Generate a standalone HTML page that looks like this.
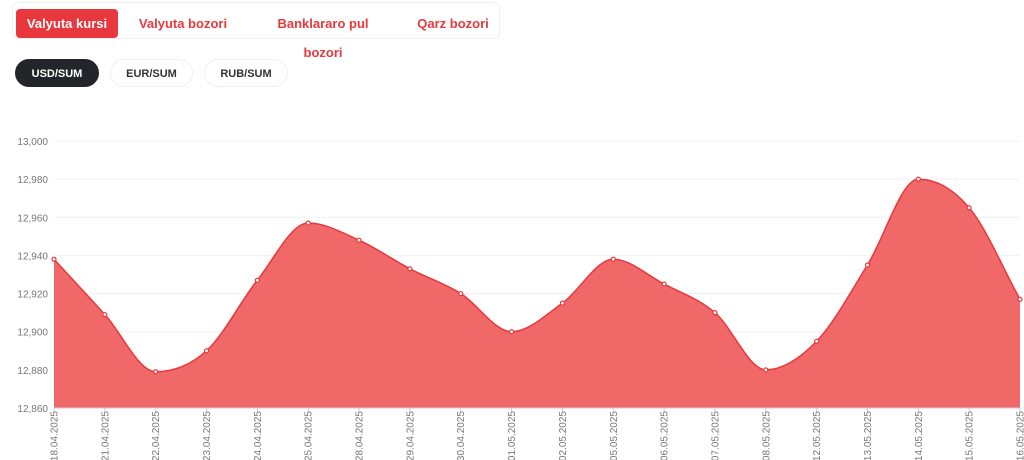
<!DOCTYPE html>
<html><head><meta charset="utf-8"><style>
body{margin:0;width:1024px;height:460px;background:#fff;font-family:"Liberation Sans",sans-serif;position:relative;overflow:hidden}
.tabs{position:absolute;left:12px;top:2px;width:488px;height:37px;border:1px solid #eef0f4;border-radius:6px;box-sizing:border-box}
.tab{position:absolute;top:6px;height:29px;line-height:29px;font-size:13px;font-weight:bold;color:#e8383d;text-align:center}
.tab.active{background:#e8383d;color:#fff;border-radius:4px}
.pill{position:absolute;top:59px;height:28px;line-height:28px;border-radius:14px;font-size:11px;font-weight:bold;text-align:center;border:1px solid #eef0f4;box-sizing:border-box;color:#333}
.pill.active{background:#24252b;color:#fff;border-color:#24252b}
svg{position:absolute;left:0;top:0}
</style></head><body>
<div class="tabs">
<div class="tab active" style="left:3px;width:102px">Valyuta kursi</div>
<div class="tab" style="left:120px;width:100px">Valyuta bozori</div>
<div class="tab" style="left:245px;width:130px">Banklararo pul bozori</div>
<div class="tab" style="left:400px;width:80px">Qarz bozori</div>
</div>
<div class="pill active" style="left:15px;width:84px">USD/SUM</div>
<div class="pill" style="left:110px;width:83px">EUR/SUM</div>
<div class="pill" style="left:204px;width:84px">RUB/SUM</div>
<svg id="chart" width="1024" height="460"></svg>
<script>
const dates=["18.04.2025","21.04.2025","22.04.2025","23.04.2025","24.04.2025","25.04.2025","28.04.2025","29.04.2025","30.04.2025","01.05.2025","02.05.2025","05.05.2025","06.05.2025","07.05.2025","08.05.2025","12.05.2025","13.05.2025","14.05.2025","15.05.2025","16.05.2025"];
const rates=[12938,12909,12879,12890,12927,12957,12948,12933,12920,12900,12915,12938,12925,12910,12880,12895,12935,12980,12965,12917];
const yTicks=[12860,12880,12900,12920,12940,12960,12980,13000];
const svg=document.getElementById('chart'),NS="http://www.w3.org/2000/svg";
const X0=54,X1=1020,Y0=408,Y1=141,ymin=12860,ymax=13000;
const xs=i=>X0+(X1-X0)*i/(dates.length-1);
const ys=v=>Y0-(v-ymin)/(ymax-ymin)*(Y0-Y1);
function mk(t,a){const e=document.createElementNS(NS,t);for(const k in a)e.setAttribute(k,a[k]);svg.appendChild(e);return e;}
yTicks.forEach(v=>{
const g=mk('line',{x1:X0,x2:X1,y1:ys(v),y2:ys(v),stroke:'#eef0f6','stroke-width':1});


const t=mk('text',{x:X0-6,y:ys(v)+4,'text-anchor':'end','font-size':10,fill:'#777','font-family':'Liberation Sans, sans-serif'});
t.textContent=v.toLocaleString('en-US');


});
const P=rates.map((v,i)=>[xs(i),ys(v)]);
const n=P.length,d=[],m=[];
for(let i=0;i<n-1;i++)d.push((P[i+1][1]-P[i][1])/(P[i+1][0]-P[i][0]));
for(let i=0;i<n;i++){if(i==0)m.push(d[0]);else if(i==n-1)m.push(d[n-2]);else m.push(d[i-1]*d[i]<=0?0:(d[i-1]+d[i])/2);}
for(let i=0;i<n-1;i++){if(d[i]==0){m[i]=m[i+1]=0;continue;}const a=m[i]/d[i],b=m[i+1]/d[i],s=a*a+b*b;if(s>9){const t=3/Math.sqrt(s);m[i]=t*a*d[i];m[i+1]=t*b*d[i];}}
let path=`M${P[0][0]},${P[0][1]}`;
for(let i=0;i<n-1;i++){const h=(P[i+1][0]-P[i][0])/3;path+=` C${P[i][0]+h},${P[i][1]+m[i]*h} ${P[i+1][0]-h},${P[i+1][1]-m[i+1]*h} ${P[i+1][0]},${P[i+1][1]}`;}
const area=mk('path',{d:path+` L${X1},${Y0} L${X0},${Y0} Z`,fill:'#f06868'});


const line=mk('path',{d:path,fill:'none',stroke:'#e8383d','stroke-width':1.5});


const ax=mk('line',{x1:X0,x2:X1,y1:Y0,y2:Y0,stroke:'#ccc'});


P.forEach((p,i)=>{
const c=mk('circle',{cx:p[0],cy:p[1],r:2,fill:'#fff',stroke:'#e8383d','stroke-width':1.2});


const tk=mk('line',{x1:p[0],x2:p[0],y1:Y0,y2:Y0+4,stroke:'#ccc'});


const t=mk('text',{x:0,y:0,'text-anchor':'end','font-size':10,fill:'#777','font-family':'Liberation Sans, sans-serif',transform:`translate(${p[0]+3.5},${Y0+3}) rotate(-90)`});
t.textContent=dates[i];


});
</script>
</body></html>
